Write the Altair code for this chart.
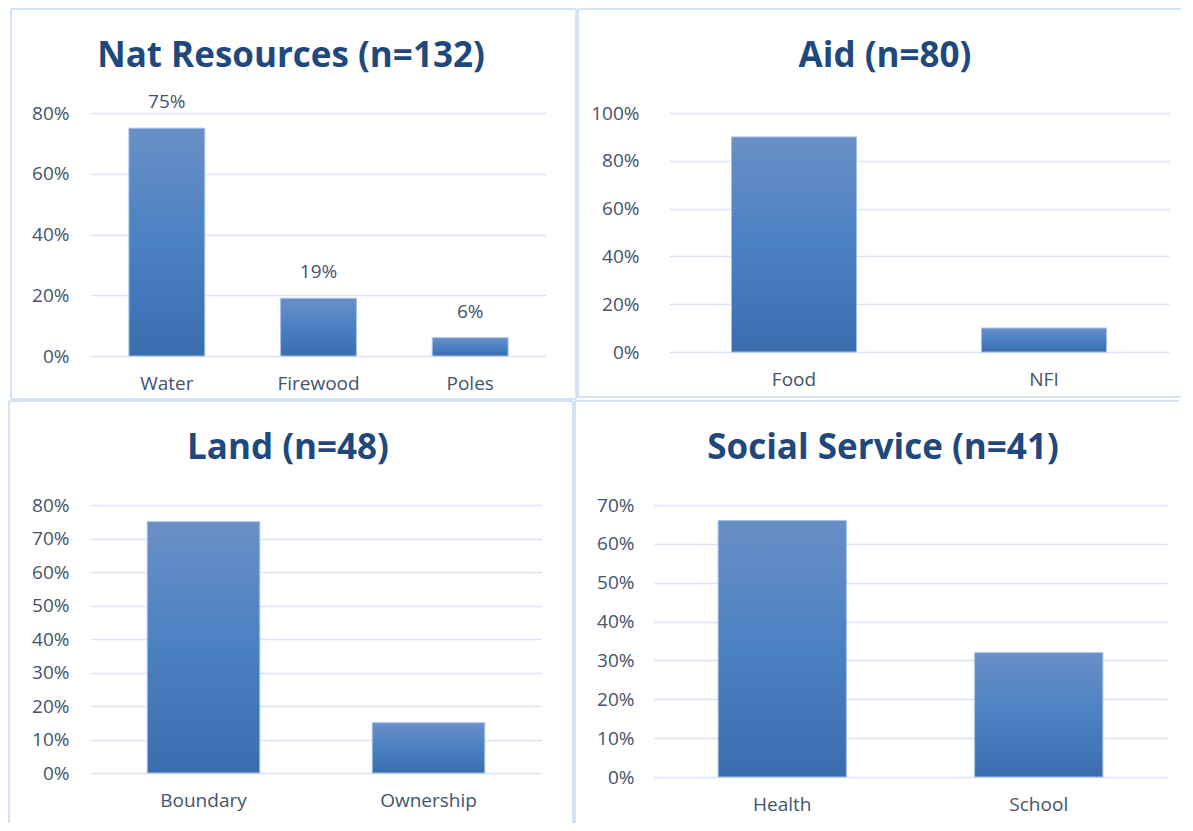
import altair as alt
import pandas as pd

# ---- data ----
nat_cats = ["Water", "Firewood", "Poles"]
nat_vals = [0.75, 0.19, 0.06]
aid_cats = ["Food", "NFI"]
aid_vals = [0.90, 0.10]
land_cats = ["Boundary", "Ownership"]
land_vals = [0.75, 0.15]
soc_cats = ["Health", "School"]
soc_vals = [0.66, 0.32]

nat_ticks = [0, 0.2, 0.4, 0.6, 0.8]
aid_ticks = [0, 0.2, 0.4, 0.6, 0.8, 1.0]
land_ticks = [0, 0.1, 0.2, 0.3, 0.4, 0.5, 0.6, 0.7, 0.8]
soc_ticks = [0, 0.1, 0.2, 0.3, 0.4, 0.5, 0.6, 0.7]

titles = ["Nat Resources (n=132)", "Aid (n=80)", "Land (n=48)", "Social Service (n=41)"]

FONT = "Open Sans"
LABEL_COLOR = "#44546A"
TITLE_COLOR = "#1F497D"
GRID = "#D9E2F3"
BORDER = "#D5E2F3"
LBL = 19

GRAD = alt.Gradient(
    gradient="linear",
    stops=[
        alt.GradientStop(color="#6A8FC6", offset=0),
        alt.GradientStop(color="#4A81C3", offset=0.5),
        alt.GradientStop(color="#3A6DAE", offset=1),
    ],
    x1=0, x2=0, y1=0, y2=1,
)


def edge(one, x, x2, y, y2):
    return alt.Chart(one).mark_rule(color=BORDER, strokeWidth=2).encode(
        x=alt.value(x), x2=alt.value(x2), y=alt.value(y), y2=alt.value(y2)
    )


def panel(cats, vals, ticks, ymax, title, w, h, box, sides, title_xy, ypad, show_labels=False):
    df = pd.DataFrame({"cat": cats, "val": vals})
    base = alt.Chart(df)
    x = alt.X(
        "cat:N", sort=cats, title=None,
        scale=alt.Scale(paddingInner=0.5, paddingOuter=0.25),
        axis=alt.Axis(labelAngle=0, labelPadding=18, labelFontSize=LBL, labelFont=FONT,
                      labelColor=LABEL_COLOR, domain=False, ticks=False, grid=False),
    )
    y = alt.Y(
        "val:Q", title=None,
        scale=alt.Scale(domain=[0, ymax], nice=False, zero=True),
        axis=alt.Axis(values=ticks, format=".0%", labelFontSize=LBL, labelFont=FONT,
                      labelColor=LABEL_COLOR, labelPadding=ypad, domain=False, ticks=False,
                      grid=True, gridColor=GRID, gridWidth=1.5),
    )
    bars = base.mark_bar(fill=GRAD, stroke="#A3C0E6", strokeWidth=1).encode(x=x, y=y)
    one = pd.DataFrame({"t": [title]})
    l, r, t, b = box
    layers = []
    if "top" in sides:
        layers.append(edge(one, l, r, t, t))
    if "left" in sides:
        layers.append(edge(one, l, l, t, b))
    if "right" in sides:
        layers.append(edge(one, r, r, t, b))
    if "bottom" in sides:
        layers.append(edge(one, l, r, b, b))
    ttl = alt.Chart(one).mark_text(
        font=FONT, fontSize=35, fontWeight="bold", color=TITLE_COLOR, align="center", baseline="middle"
    ).encode(x=alt.value(title_xy[0]), y=alt.value(title_xy[1]), text="t:N")
    layers += [bars, ttl]
    if show_labels:
        lbl = base.mark_text(font=FONT, fontSize=LBL, color=LABEL_COLOR, baseline="middle", dy=-26).encode(
            x=alt.X("cat:N", sort=cats), y="val:Q", text=alt.Text("val:Q", format=".0%")
        )
        layers.append(lbl)
    return alt.layer(*layers).properties(width=w, height=h)


p1 = panel(nat_cats, nat_vals, nat_ticks, 0.8, titles[0], 455, 243,
           (-80, 485, -104, 286), ("top", "left", "right", "bottom"), (200, -57), 22, show_labels=True)
p2 = panel(aid_cats, aid_vals, aid_ticks, 1.0, titles[1], 500, 239,
           (-91, 512, -104, 284), ("top", "left", "bottom"), (216, -57), 30)
p3 = panel(land_cats, land_vals, land_ticks, 0.8, titles[2], 450, 268,
           (-82, 482, -104, 318), ("top", "left", "right"), (197, -57), 22)
p4 = panel(soc_cats, soc_vals, soc_ticks, 0.7, titles[3], 513, 272,
           (-79, 525, -104, 318), ("top", "left"), (229, -57), 20)

chart = alt.vconcat(
    alt.hconcat(p1, p2, spacing=0),
    alt.hconcat(p3, p4, spacing=0),
    spacing=0,
).properties(padding=0, background="white").configure_view(strokeWidth=0)

chart.save("out.html", embed_options={"renderer": "svg", "actions": False})
